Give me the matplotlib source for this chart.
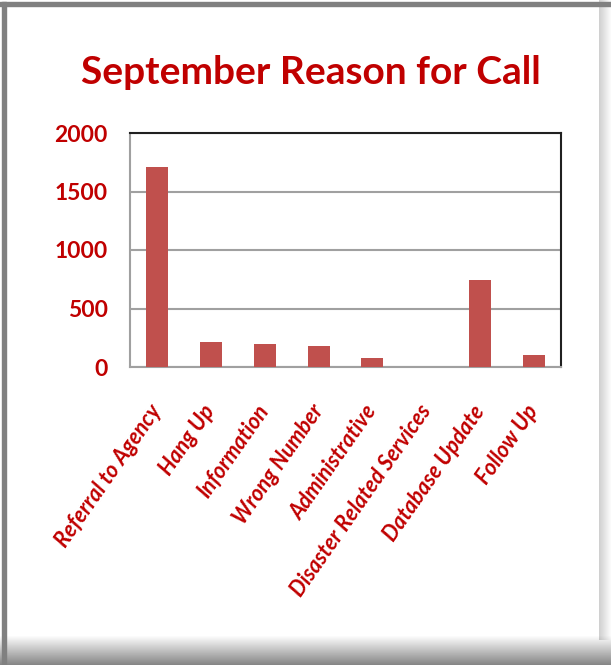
import numpy as np
import matplotlib
matplotlib.use("Agg")
import matplotlib.pyplot as plt

# Call reasons for September
REASONS = ["Referral to Agency", "Hang Up", "Information", "Wrong Number",
           "Administrative", "Disaster Related Services", "Database Update",
           "Follow Up"]
CALLS = [1710, 210, 197, 182, 74, 0, 744, 103]
Y_TICKS = [0, 500, 1000, 1500, 2000]

RED_TEXT = "#C00000"
BAR_RED = "#C0504D"
FONT = "Lato"

fig = plt.figure(figsize=(6.11, 6.65), dpi=100)

# slide frame: grey edge on top/left, soft shadow along the bottom and right
bg = fig.add_axes([0, 0, 1, 1], zorder=-1)
bg.set_xlim(0, 611)
bg.set_ylim(665, 0)
bg.axis("off")
shadow = np.linspace(1.0, 0.0, 30)[:, None]
bg.imshow(np.repeat(shadow, 2, axis=1), cmap="gray", vmin=-1.1, vmax=1.0,
          extent=(0, 611, 665, 635), aspect="auto")
side = np.linspace(0.0, 1.0, 12)[None, :]
bg.imshow(np.repeat(side, 2, axis=0), cmap="gray", vmin=-0.1, vmax=1.1,
          extent=(599, 611, 640, 0), aspect="auto", alpha=0.2)
bg.fill_between([0, 611], 2, 6, color="#808080")
bg.fill_between([2, 6], 2, 665, color="#808080")

ax = fig.add_axes([130 / 611, 1 - 367 / 665, 431 / 611, 234 / 665])
x = np.arange(len(REASONS))
ax.bar(x, CALLS, width=0.41, color=BAR_RED, zorder=3)
ax.set_xlim(-0.5, len(REASONS) - 0.5)
ax.set_ylim(0, 2000)
ax.set_yticks(Y_TICKS)
ax.yaxis.grid(True, color="#A0A0A0", linewidth=1.5, zorder=0)
ax.set_axisbelow(True)

for side_name in ["top", "right"]:
    ax.spines[side_name].set_color("#202020")
    ax.spines[side_name].set_linewidth(1.5)
for side_name in ["left", "bottom"]:
    ax.spines[side_name].set_color("#A0A0A0")
    ax.spines[side_name].set_linewidth(1.5)

ax.tick_params(axis="both", length=0)
ax.tick_params(axis="y", pad=16)
ax.set_yticklabels([str(v) for v in Y_TICKS], fontsize=16.5, color=RED_TEXT,
                   fontweight="bold", family=FONT)
ax.set_xticks(x)
ax.set_xticklabels(REASONS, rotation=55, ha="right", va="center",
                   rotation_mode="anchor", fontsize=15.5, color=RED_TEXT,
                   fontweight="bold", fontstyle="italic", family=FONT)
ax.tick_params(axis="x", pad=29)

fig.text(311 / 611, 1 - 72 / 665, "September Reason for Call", ha="center",
         va="center", fontsize=28, color=RED_TEXT, fontweight="bold",
         family=FONT)

fig.savefig("out.png", dpi=100)
